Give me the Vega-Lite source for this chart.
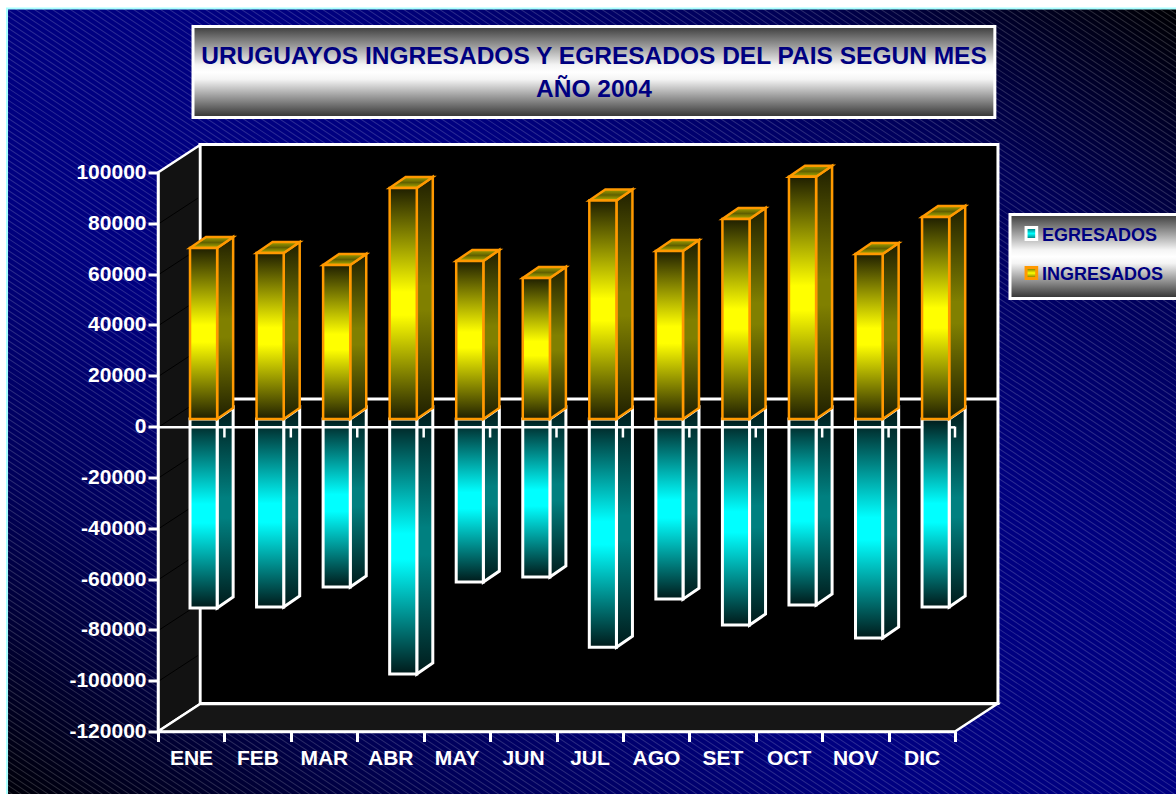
{"$schema":"https://vega.github.io/schema/vega-lite/v6.json","autosize":{"type":"none"},"width":797,"height":559,"padding":{"left":158,"right":221,"top":172.5,"bottom":62.5},"background":"white","view":{"stroke":null},
"datasets":{"meses":[
{"mes":"ENE","n":1,"serie":"INGRESADOS","valor":67300},{"mes":"FEB","n":2,"serie":"INGRESADOS","valor":65300},{"mes":"MAR","n":3,"serie":"INGRESADOS","valor":60600},{"mes":"ABR","n":4,"serie":"INGRESADOS","valor":90900},{"mes":"MAY","n":5,"serie":"INGRESADOS","valor":62200},{"mes":"JUN","n":6,"serie":"INGRESADOS","valor":55500},{"mes":"JUL","n":7,"serie":"INGRESADOS","valor":86000},{"mes":"AGO","n":8,"serie":"INGRESADOS","valor":66100},{"mes":"SET","n":9,"serie":"INGRESADOS","valor":78700},{"mes":"OCT","n":10,"serie":"INGRESADOS","valor":95300},{"mes":"NOV","n":11,"serie":"INGRESADOS","valor":64900},{"mes":"DIC","n":12,"serie":"INGRESADOS","valor":79500},
{"mes":"ENE","n":1,"serie":"EGRESADOS","valor":-74400},{"mes":"FEB","n":2,"serie":"EGRESADOS","valor":-74000},{"mes":"MAR","n":3,"serie":"EGRESADOS","valor":-66100},{"mes":"ABR","n":4,"serie":"EGRESADOS","valor":-100400},{"mes":"MAY","n":5,"serie":"EGRESADOS","valor":-64200},{"mes":"JUN","n":6,"serie":"EGRESADOS","valor":-62200},{"mes":"JUL","n":7,"serie":"EGRESADOS","valor":-89800},{"mes":"AGO","n":8,"serie":"EGRESADOS","valor":-70900},{"mes":"SET","n":9,"serie":"EGRESADOS","valor":-81100},{"mes":"OCT","n":10,"serie":"EGRESADOS","valor":-73200},{"mes":"NOV","n":11,"serie":"EGRESADOS","valor":-86200},{"mes":"DIC","n":12,"serie":"EGRESADOS","valor":-74000}],
"pieza":[{"pieza":"a"}],
"fondo3d":[{"d":0},{"d":1}],
"rejilla":[{"v":-100000},{"v":-80000},{"v":-60000},{"v":-40000},{"v":-20000},{"v":0},{"v":20000},{"v":40000},{"v":60000},{"v":80000}]},
"encoding":{
"x":{"field":"px","type":"quantitative","scale":{"domain":[0,12],"nice":false,"zero":false},"axis":{"values":[0,1,2,3,4,5,6,7,8,9,10,11,12],"labelExpr":"['ENE','FEB','MAR','ABR','MAY','JUN','JUL','AGO','SET','OCT','NOV','DIC',''][datum.value]","labelOffset":33,"labelFont":"Liberation Sans","labelFontWeight":"bold","labelFontSize":21,"labelColor":"white","labelPadding":6,"labelOverlap":false,"labelFlush":false,"title":null,"grid":false,"domainColor":"white","domainWidth":2.5,"tickColor":"white","tickWidth":3,"tickSize":10,"zindex":1}},
"y":{"field":"py","type":"quantitative","scale":{"domain":[-120000,100000],"nice":false,"zero":false},"axis":{"values":[-120000,-100000,-80000,-60000,-40000,-20000,0,20000,40000,60000,80000,100000],"labelExpr":"''+datum.value","labelFont":"Liberation Sans","labelFontWeight":"bold","labelFontSize":21,"labelColor":"white","labelPadding":2,"labelOverlap":false,"labelFlush":false,"title":null,"grid":false,"domainColor":"white","domainWidth":2.5,"tickColor":"white","tickWidth":3,"tickSize":10,"zindex":1}}
},
"layer":[
{"data":{"name":"pieza"},"transform":[{"calculate":"-2.273","as":"px"},{"calculate":"15.5","as":"px2"},{"calculate":"164508","as":"py"},{"calculate":"-146798","as":"py2"}],
 "mark":{"type":"rect","fill":{"gradient":"linear","x1":0,"y1":1,"x2":1,"y2":0,"stops":[{"offset":0,"color":"#000008"},{"offset":0.2,"color":"#000058"},{"offset":0.38,"color":"#000080"},{"offset":0.62,"color":"#000080"},{"offset":0.82,"color":"#000058"},{"offset":1,"color":"#000000"}]}},"encoding":{"x2":{"field":"px2"},"y2":{"field":"py2"}}},
{"data":{"name":"pieza"},"transform":[{"calculate":"-1.054","as":"px"},{"calculate":"14","as":"px2"},{"calculate":"-283071","as":"py"},{"calculate":"306693","as":"py2"}],
 "mark":{"type":"rule","stroke":"white","strokeOpacity":0.17,"strokeWidth":3200,"strokeDash":[1,4]},"encoding":{"x2":{"field":"px2"},"y2":{"field":"py2"}}},
{"data":{"name":"pieza"},"transform":[{"calculate":"-3","as":"px"},{"calculate":"-2.273","as":"px2"},{"calculate":"200000","as":"py"},{"calculate":"-200000","as":"py2"}],
 "mark":{"type":"rect","fill":"white"},"encoding":{"x2":{"field":"px2"},"y2":{"field":"py2"}}},
{"data":{"name":"pieza"},"transform":[{"calculate":"-3","as":"px"},{"calculate":"16","as":"px2"},{"calculate":"200000","as":"py"},{"calculate":"164508","as":"py2"}],
 "mark":{"type":"rect","fill":"white"},"encoding":{"x2":{"field":"px2"},"y2":{"field":"py2"}}},
{"data":{"name":"pieza"},"transform":[{"calculate":"-2.273","as":"px"},{"calculate":"15.5","as":"px2"},{"calculate":"164508","as":"py"},{"calculate":"-146798","as":"py2"}],
 "mark":{"type":"rect","fill":null,"stroke":"#a8ffff","strokeWidth":2},"encoding":{"x2":{"field":"px2"},"y2":{"field":"py2"}}},

{"data":{"name":"pieza"},"transform":[{"calculate":"0.527","as":"px"},{"calculate":"12.6","as":"px2"},{"calculate":"157424","as":"py"},{"calculate":"121610","as":"py2"}],
 "mark":{"type":"rect","stroke":"white","strokeWidth":3,"fill":{"gradient":"linear","x1":0,"y1":0,"x2":0,"y2":1,"stops":[{"offset":0,"color":"#3c3c3c"},{"offset":0.42,"color":"#f4f4f4"},{"offset":0.5,"color":"#ffffff"},{"offset":0.58,"color":"#f4f4f4"},{"offset":1,"color":"#303030"}]}},"encoding":{"x2":{"field":"px2"},"y2":{"field":"py2"}}},
{"data":{"name":"pieza"},"transform":[{"calculate":"6.564","as":"px"},{"calculate":"145650","as":"py"},{"calculate":"'URUGUAYOS INGRESADOS Y EGRESADOS DEL PAIS SEGUN MES'","as":"t"}],
 "mark":{"type":"text","font":"Liberation Sans","fontWeight":"bold","fontSize":24.5,"fill":"#000080","align":"center","baseline":"middle"},"encoding":{"text":{"field":"t"}}},
{"data":{"name":"pieza"},"transform":[{"calculate":"6.564","as":"px"},{"calculate":"132650","as":"py"},{"calculate":"'AÑO 2004'","as":"t"}],
 "mark":{"type":"text","font":"Liberation Sans","fontWeight":"bold","fontSize":24.5,"fill":"#000080","align":"center","baseline":"middle"},"encoding":{"text":{"field":"t"}}},

{"data":{"name":"pieza"},"transform":[{"calculate":"12.828","as":"px"},{"calculate":"15.54","as":"px2"},{"calculate":"83435","as":"py"},{"calculate":"50376","as":"py2"}],
 "mark":{"type":"rect","stroke":"white","strokeWidth":3,"fill":{"gradient":"linear","x1":0,"y1":0,"x2":0,"y2":1,"stops":[{"offset":0,"color":"#3c3c3c"},{"offset":0.42,"color":"#f4f4f4"},{"offset":0.5,"color":"#ffffff"},{"offset":0.58,"color":"#f4f4f4"},{"offset":1,"color":"#303030"}]}},"encoding":{"x2":{"field":"px2"},"y2":{"field":"py2"}}},
{"data":{"name":"pieza"},"transform":[{"calculate":"13.07","as":"px"},{"calculate":"13.23","as":"px2"},{"calculate":"78318","as":"py"},{"calculate":"73596","as":"py2"}],
 "mark":{"type":"rect","stroke":"white","strokeWidth":3,"fill":{"gradient":"linear","x1":0,"y1":0,"x2":0,"y2":1,"stops":[{"offset":0,"color":"#006060"},{"offset":0.5,"color":"#00ffff"},{"offset":1,"color":"#006060"}]}},"encoding":{"x2":{"field":"px2"},"y2":{"field":"py2"}}},
{"data":{"name":"pieza"},"transform":[{"calculate":"13.07","as":"px"},{"calculate":"13.23","as":"px2"},{"calculate":"62576","as":"py"},{"calculate":"58247","as":"py2"}],
 "mark":{"type":"rect","stroke":"#ff9900","strokeWidth":3,"fill":{"gradient":"linear","x1":0,"y1":0,"x2":0,"y2":1,"stops":[{"offset":0,"color":"#606000"},{"offset":0.5,"color":"#ffff00"},{"offset":1,"color":"#606000"}]}},"encoding":{"x2":{"field":"px2"},"y2":{"field":"py2"}}},
{"data":{"name":"pieza"},"transform":[{"calculate":"13.31","as":"px"},{"calculate":"75200","as":"py"},{"calculate":"'EGRESADOS'","as":"t"}],
 "mark":{"type":"text","font":"Liberation Sans","fontWeight":"bold","fontSize":18,"fill":"#000080","align":"left","baseline":"middle"},"encoding":{"text":{"field":"t"}}},
{"data":{"name":"pieza"},"transform":[{"calculate":"13.31","as":"px"},{"calculate":"59850","as":"py"},{"calculate":"'INGRESADOS'","as":"t"}],
 "mark":{"type":"text","font":"Liberation Sans","fontWeight":"bold","fontSize":18,"fill":"#000080","align":"left","baseline":"middle"},"encoding":{"text":{"field":"t"}}},

{"data":{"name":"pieza"},"transform":[{"calculate":"0.6325","as":"px"},{"calculate":"12.647","as":"px2"},{"calculate":"110984","as":"py"},{"calculate":"-109016","as":"py2"}],
 "mark":{"type":"rect","fill":"black","stroke":"white","strokeWidth":3},"encoding":{"x2":{"field":"px2"},"y2":{"field":"py2"}}},
{"data":{"name":"fondo3d"},"transform":[{"calculate":"datum.d*0.6325","as":"px"},{"calculate":"100000+datum.d*10800","as":"py"},{"calculate":"-120000+datum.d*10800","as":"py2"}],
 "mark":{"type":"area","orient":"vertical","fill":"#121212","stroke":"white","strokeWidth":2.5},"encoding":{"y2":{"field":"py2"}}},
{"data":{"name":"fondo3d"},"transform":[{"calculate":"datum.d*0.6325","as":"px"},{"calculate":"12+datum.d*0.6325","as":"px2"},{"calculate":"-120000+datum.d*10800","as":"py"}],
 "mark":{"type":"area","orient":"horizontal","fill":"#161616","stroke":"white","strokeWidth":2.5},"encoding":{"x2":{"field":"px2"}}},
{"data":{"name":"rejilla"},"transform":[{"calculate":"0.02","as":"px"},{"calculate":"0.6","as":"px2"},{"calculate":"datum.v","as":"py"},{"calculate":"datum.v+9900","as":"py2"}],
 "mark":{"type":"rule","stroke":"#000000","strokeWidth":1},"encoding":{"x2":{"field":"px2"},"y2":{"field":"py2"}}},
{"data":{"name":"pieza"},"transform":[{"calculate":"0.6325","as":"px"},{"calculate":"12.647","as":"px2"},{"calculate":"10900","as":"py"}],
 "mark":{"type":"rule","stroke":"white","strokeWidth":3},"encoding":{"x2":{"field":"px2"}}},

{"data":{"name":"meses"},"transform":[{"calculate":"(datum.n-1)*1.002+0.482","as":"x0"},{"calculate":"datum.x0+0.4085","as":"x1"}],
 "layer":[
 {"transform":[{"filter":"datum.serie=='EGRESADOS'"},{"calculate":"[0,1]","as":"d"},{"flatten":["d"]},{"calculate":"datum.x1+datum.d*0.241","as":"px"},{"calculate":"datum.valor+3000+datum.d*4330","as":"py"},{"calculate":"3000+datum.d*4330","as":"py2"}],
  "mark":{"type":"area","orient":"vertical","stroke":"white","strokeWidth":3,"fill":{"gradient":"linear","x1":0,"y1":0,"x2":0,"y2":1,"stops":[{"offset":0,"color":"#001a1a"},{"offset":0.45,"color":"#008080"},{"offset":0.55,"color":"#008080"},{"offset":1,"color":"#001a1a"}]}},"encoding":{"y2":{"field":"py2"},"detail":{"field":"mes"}}},
 {"transform":[{"filter":"datum.serie=='EGRESADOS'"},{"calculate":"datum.x0","as":"px"},{"calculate":"datum.x1","as":"px2"},{"calculate":"datum.valor+3000","as":"py"},{"calculate":"3000","as":"py2"}],
  "mark":{"type":"rect","stroke":"white","strokeWidth":3,"fill":{"gradient":"linear","x1":0,"y1":0,"x2":0,"y2":1,"stops":[{"offset":0,"color":"#001a1a"},{"offset":0.45,"color":"#00ffff"},{"offset":0.55,"color":"#00ffff"},{"offset":1,"color":"#001a1a"}]}},"encoding":{"x2":{"field":"px2"},"y2":{"field":"py2"}}},
 {"transform":[{"filter":"datum.serie=='INGRESADOS'"},{"calculate":"[0,1]","as":"d"},{"flatten":["d"]},{"calculate":"datum.x1+datum.d*0.241","as":"px"},{"calculate":"datum.valor+3000+datum.d*4330","as":"py"},{"calculate":"3000+datum.d*4330","as":"py2"}],
  "mark":{"type":"area","orient":"vertical","stroke":"#ff9900","strokeWidth":2.5,"fill":{"gradient":"linear","x1":0,"y1":0,"x2":0,"y2":1,"stops":[{"offset":0,"color":"#1f1f00"},{"offset":0.45,"color":"#808000"},{"offset":0.55,"color":"#808000"},{"offset":1,"color":"#1f1f00"}]}},"encoding":{"y2":{"field":"py2"},"detail":{"field":"mes"}}},
 {"transform":[{"filter":"datum.serie=='INGRESADOS'"},{"calculate":"[0,1]","as":"d"},{"flatten":["d"]},{"calculate":"datum.x0+datum.d*0.241","as":"px"},{"calculate":"datum.x1+datum.d*0.241","as":"px2"},{"calculate":"datum.valor+3000+datum.d*4330","as":"py"}],
  "mark":{"type":"area","orient":"horizontal","stroke":"#ff9900","strokeWidth":2.5,"fill":{"gradient":"linear","x1":0,"y1":0,"x2":0,"y2":1,"stops":[{"offset":0,"color":"#a0a000"},{"offset":0.5,"color":"#606000"},{"offset":1,"color":"#b0b000"}]}},"encoding":{"x2":{"field":"px2"},"detail":{"field":"mes"}}},
 {"transform":[{"filter":"datum.serie=='INGRESADOS'"},{"calculate":"datum.x0","as":"px"},{"calculate":"datum.x1","as":"px2"},{"calculate":"datum.valor+3000","as":"py"},{"calculate":"3000","as":"py2"}],
  "mark":{"type":"rect","stroke":"#ff9900","strokeWidth":2.5,"fill":{"gradient":"linear","x1":0,"y1":0,"x2":0,"y2":1,"stops":[{"offset":0,"color":"#1f1f00"},{"offset":0.45,"color":"#ffff00"},{"offset":0.55,"color":"#ffff00"},{"offset":1,"color":"#1f1f00"}]}},"encoding":{"x2":{"field":"px2"},"y2":{"field":"py2"}}},
 {"transform":[{"filter":"datum.serie=='INGRESADOS'"},{"calculate":"datum.n","as":"px"},{"calculate":"0","as":"py"},{"calculate":"-4300","as":"py2"}],
  "mark":{"type":"rule","stroke":"white","strokeWidth":2.5},"encoding":{"y2":{"field":"py2"}}}
 ]},
{"data":{"name":"pieza"},"transform":[{"calculate":"0","as":"px"},{"calculate":"11.52","as":"px2"},{"calculate":"-300","as":"py"}],
 "mark":{"type":"rule","stroke":"white","strokeWidth":2.5},"encoding":{"x2":{"field":"px2"}}},
{"data":{"name":"pieza"},"transform":[{"calculate":"11.93","as":"px"},{"calculate":"12","as":"px2"},{"calculate":"-300","as":"py"}],
 "mark":{"type":"rule","stroke":"white","strokeWidth":2.5},"encoding":{"x2":{"field":"px2"}}}
]}
